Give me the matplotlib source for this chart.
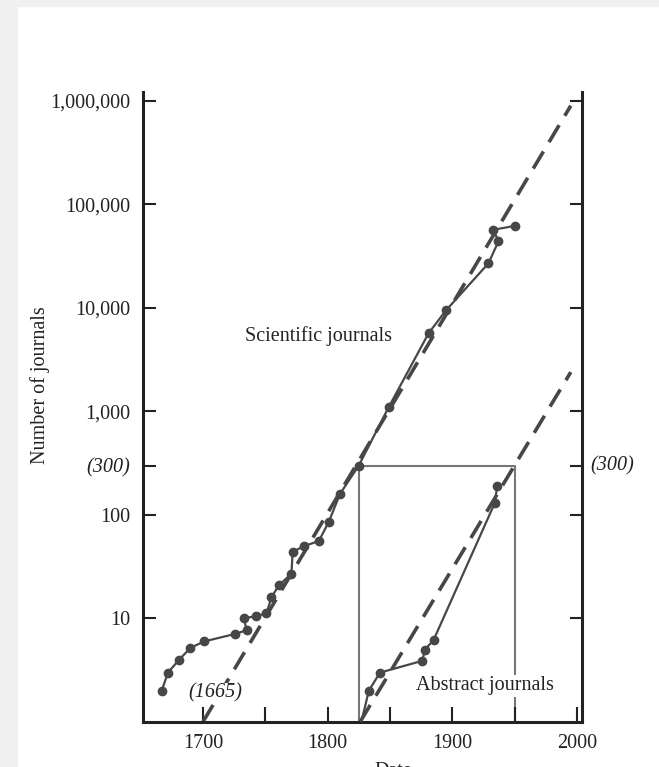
import numpy as np
import matplotlib.pyplot as plt
from matplotlib.patches import Rectangle
from matplotlib.ticker import FixedLocator, NullLocator

plt.rcParams['font.family'] = ['Liberation Serif', 'DejaVu Serif']

# scientific journals founded
sci_years = [1667, 1672, 1681, 1690, 1701, 1726, 1735, 1733, 1743, 1751, 1755,
             1761, 1771, 1772, 1781, 1793, 1801, 1810, 1825, 1849, 1881, 1895,
             1929, 1937, 1933, 1950]
sci_counts = [2, 3, 4, 5.2, 6, 7.1, 7.7, 10, 10.6, 11.2, 16, 21, 27, 44, 50, 56,
              86, 160, 300, 1100, 5700, 9500, 27000, 44000, 57000, 62000]

# abstract journals
abs_years = [1827, 1830, 1833, 1842, 1876, 1878, 1885, 1934, 1936]
abs_counts = [1, 1.4, 2, 3, 3.9, 5, 6.2, 130, 190]

# exponential trend lines (dashed)
sci_trend_years = [1700, 1995]
sci_trend_counts = [1, 900000]
abs_trend_years = [1826, 1995]
abs_trend_counts = [1, 2400]

# the (300) box
box_years = [1825, 1825, 1950, 1950]
box_counts = [1, 300, 300, 1]

ytick_vals = [10, 100, 300, 1000, 10000, 100000, 1000000]
ytick_text = ['10', '100', '(300)', '1,000', '10,000', '100,000', '1,000,000']
xtick_major = [1700, 1800, 1900, 2000]
xtick_minor = [1750, 1850, 1950]

fig = plt.figure(figsize=(6.59, 7.67), dpi=100)
# light grey screenshot frame
fig.patches.append(Rectangle((0, 0), 17 / 659, 1, transform=fig.transFigure,
                             color='#f0f0f0', zorder=0))
fig.patches.append(Rectangle((0, 1 - 6 / 767), 1, 6 / 767, transform=fig.transFigure,
                             color='#f0f0f0', zorder=0))

ax = fig.add_axes([143 / 659, 1 - 722 / 767, (582 - 143) / 659, (722 - 92) / 767])
ax.set_yscale('log')
ax.set_xlim(1652, 2004)
ax.set_ylim(1, 1.22e6)

line_col = '#474747'
ax.plot(box_years, box_counts, color='#777777', lw=1.5, zorder=1)
ax.plot(sci_trend_years, sci_trend_counts, color=line_col, lw=2.6,
        dashes=(5.5, 3), zorder=2)
ax.plot(abs_trend_years, abs_trend_counts, color=line_col, lw=2.6,
        dashes=(5.5, 3), zorder=2)
ax.plot(sci_years, sci_counts, color=line_col, lw=1.6, marker='o', ms=6,
        zorder=3)
ax.plot(abs_years, abs_counts, color=line_col, lw=1.6, marker='o', ms=6,
        markevery=list(range(2, len(abs_years))), zorder=3)

for s in ['left', 'right', 'bottom']:
    ax.spines[s].set_linewidth(2.2)
    ax.spines[s].set_color('#222222')
ax.spines['top'].set_visible(False)

ax.yaxis.set_major_locator(FixedLocator(ytick_vals))
ax.yaxis.set_minor_locator(NullLocator())
ax.set_yticklabels(ytick_text)
for lab in ax.get_yticklabels():
    if lab.get_text() == '(300)':
        lab.set_style('italic')
ax.tick_params(axis='y', which='major', direction='in', length=9, width=1.5,
               left=True, right=True, labelsize=14.5, pad=9, colors='#222222')

ax.xaxis.set_major_locator(FixedLocator(xtick_major))
ax.xaxis.set_minor_locator(FixedLocator(xtick_minor))
ax.tick_params(axis='x', which='both', direction='in', length=11, width=1.5,
               labelsize=14.5, pad=9, colors='#222222')

# right-hand (300) label
ax.text(1.018, np.log10(300) / np.log10(1.22e6), '(300)', transform=ax.transAxes,
        ha='left', va='center', fontsize=14.5, style='italic', color='#222222')

ax.text(1793, 5300, 'Scientific journals', ha='center', va='center',
        fontsize=14.5, color='#222222')
ax.text(1926, 2.23, 'Abstract journals', ha='center', va='center',
        fontsize=14.5, color='#222222', zorder=4,
        bbox=dict(facecolor='white', edgecolor='none', pad=1))
ax.text(1710, 1.9, '(1665)', ha='center', va='center', fontsize=14.5,
        style='italic', color='#222222', zorder=4,
        bbox=dict(facecolor='white', edgecolor='none', pad=0.5))

fig.text(40 / 659, 1 - 385 / 767, 'Number of journals', rotation=90,
         ha='center', va='center', fontsize=14.5, color='#222222')
# axis title is cut by the bottom edge in the source picture
fig.text(393 / 659, 1 - 762 / 767, 'Date', ha='center', va='top',
         fontsize=14.5, color='#222222')

fig.savefig('out.png', dpi=100)
